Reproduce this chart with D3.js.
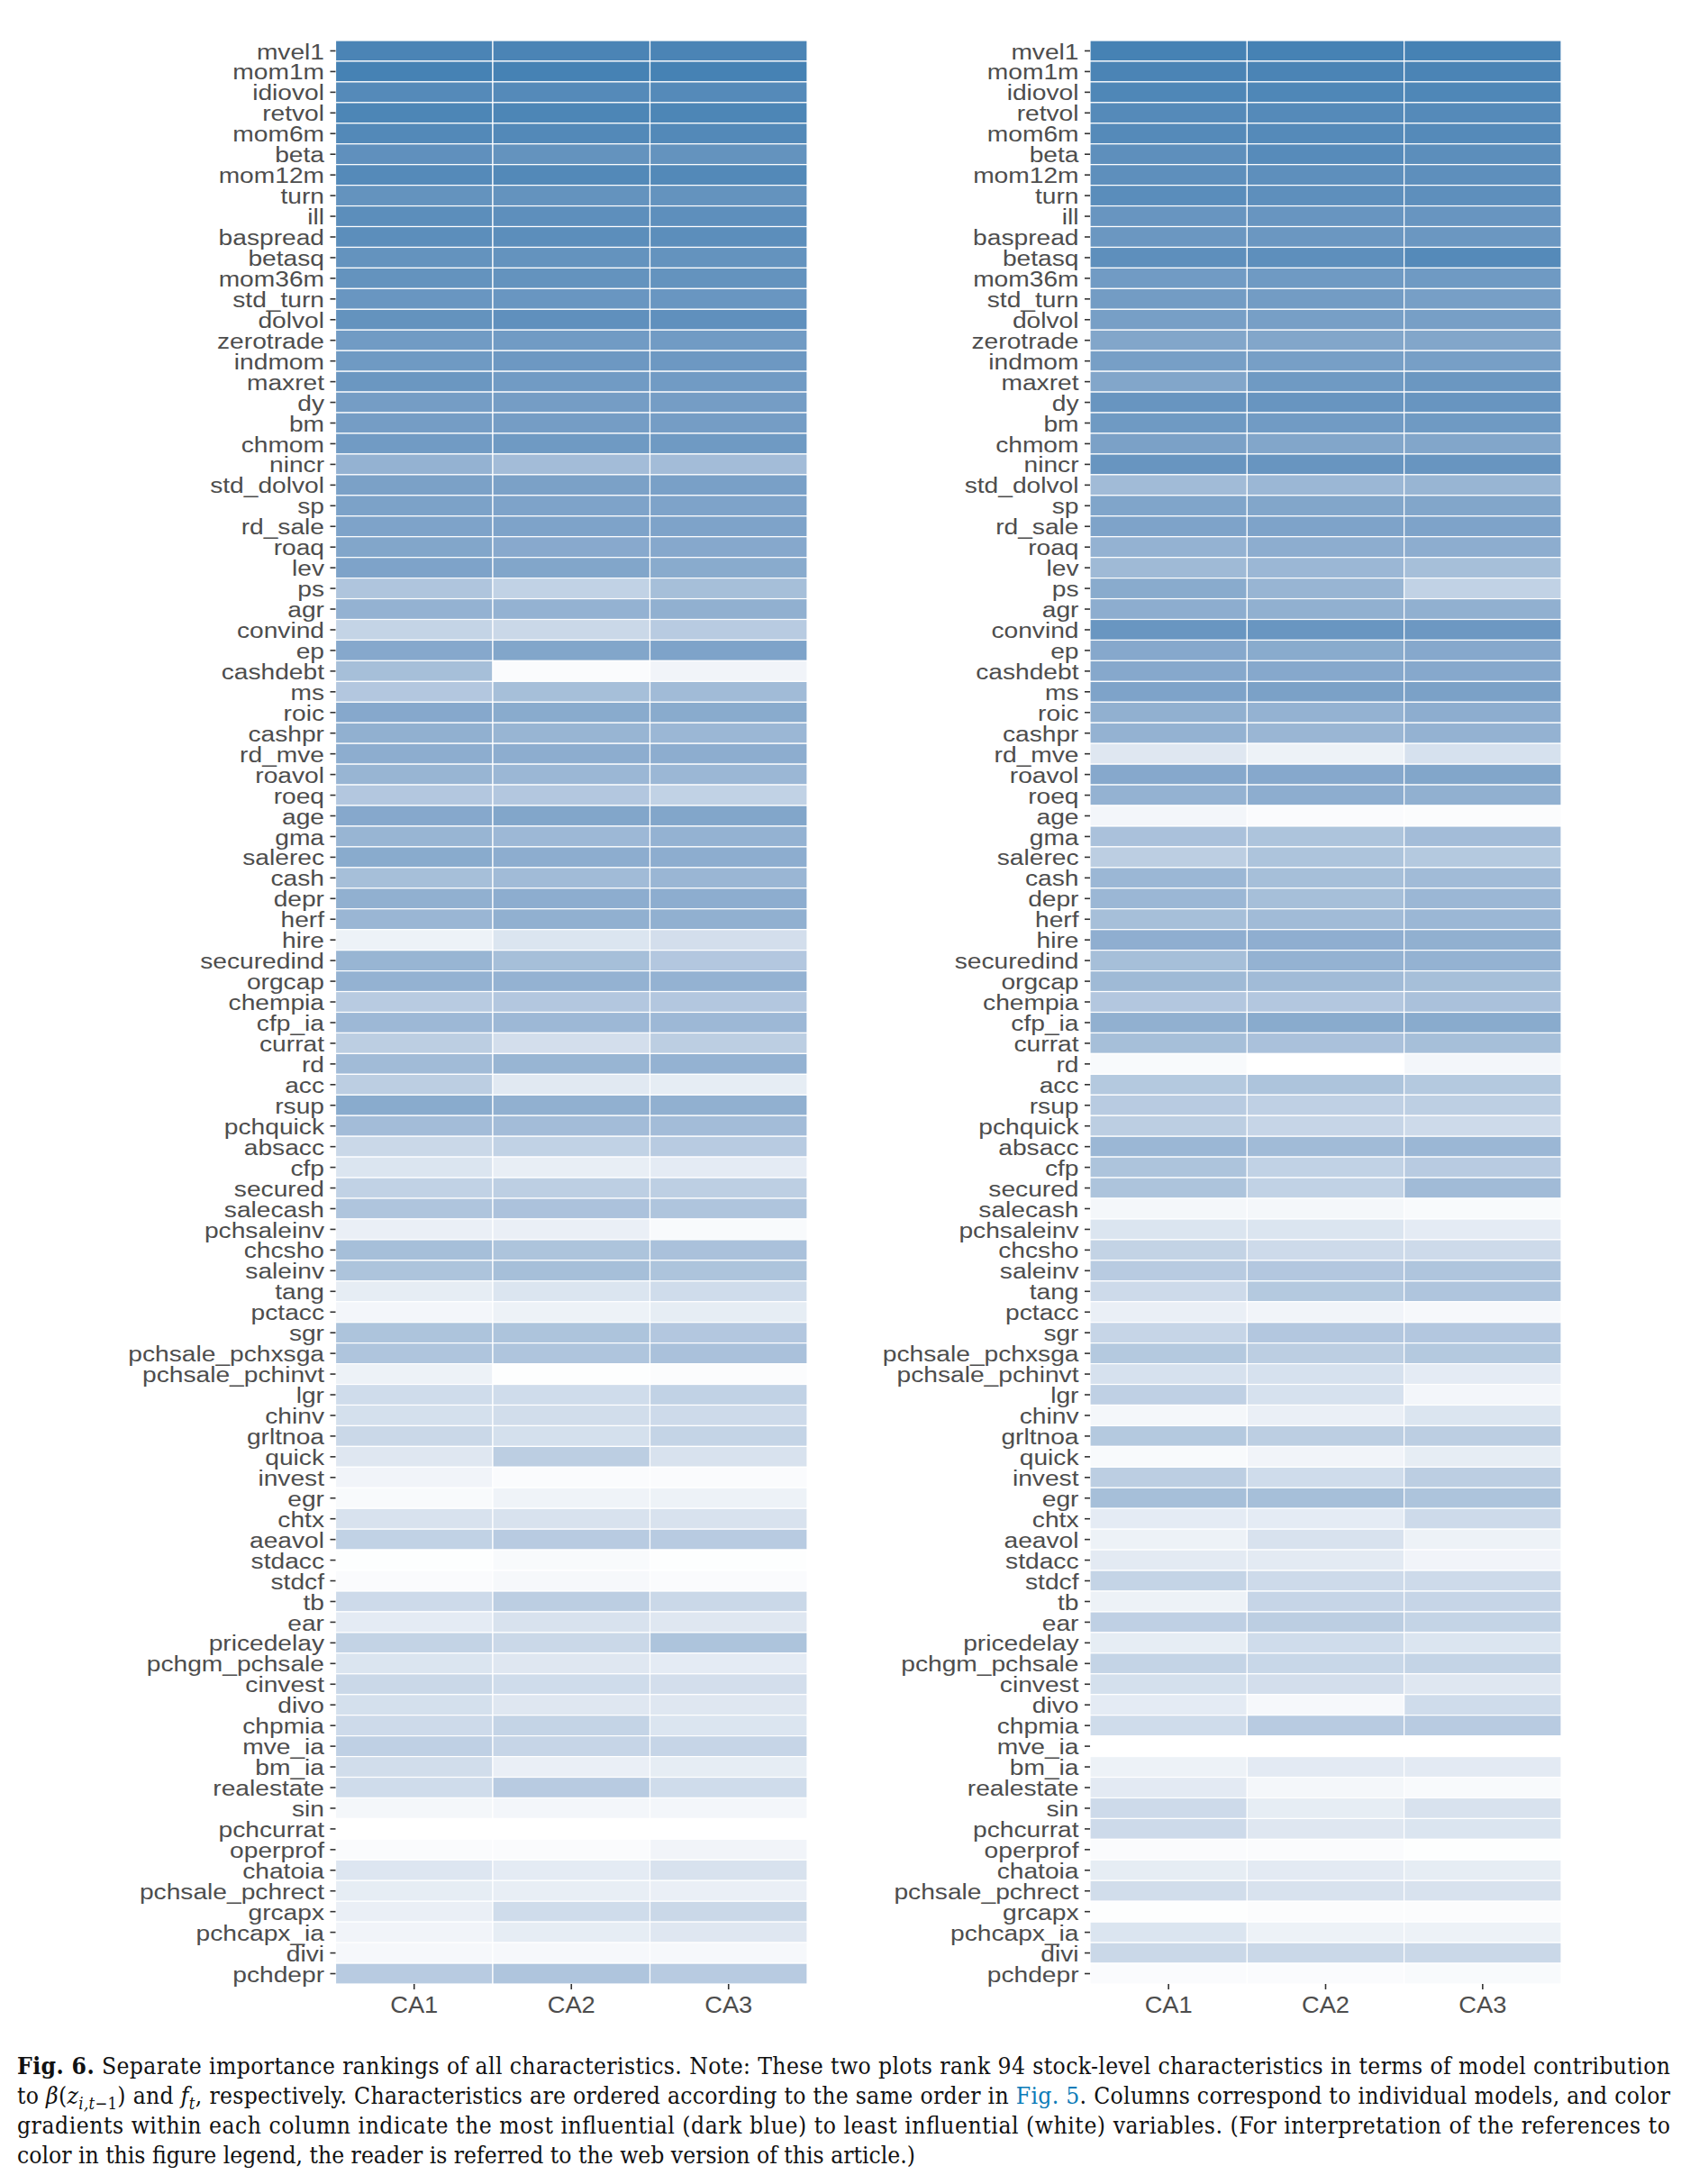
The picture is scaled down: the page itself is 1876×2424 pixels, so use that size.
<!DOCTYPE html>
<html><head><meta charset="utf-8">
<script src="https://cdn.jsdelivr.net/npm/d3@7"></script>
<style>body{margin:0;background:#fff}</style>
</head><body>
<svg id="chart" width="1876" height="2424" xmlns="http://www.w3.org/2000/svg"></svg>
<script>
const characteristics = ["mvel1","mom1m","idiovol","retvol","mom6m","beta","mom12m","turn","ill","baspread",
"betasq","mom36m","std_turn","dolvol","zerotrade","indmom","maxret","dy","bm","chmom",
"nincr","std_dolvol","sp","rd_sale","roaq","lev","ps","agr","convind","ep",
"cashdebt","ms","roic","cashpr","rd_mve","roavol","roeq","age","gma","salerec",
"cash","depr","herf","hire","securedind","orgcap","chempia","cfp_ia","currat","rd",
"acc","rsup","pchquick","absacc","cfp","secured","salecash","pchsaleinv","chcsho","saleinv",
"tang","pctacc","sgr","pchsale_pchxsga","pchsale_pchinvt","lgr","chinv","grltnoa","quick","invest",
"egr","chtx","aeavol","stdacc","stdcf","tb","ear","pricedelay","pchgm_pchsale","cinvest",
"divo","chpmia","mve_ia","bm_ia","realestate","sin","pchcurrat","operprof","chatoia","pchsale_pchrect",
"grcapx","pchcapx_ia","divi","pchdepr"];

const models = ["CA1","CA2","CA3"];

// Left panel: contribution to beta(z_{i,t-1})
const betaCA1 = [0.98,1.0,0.93,0.97,0.94,0.88,0.93,0.86,0.9,0.9,
0.86,0.86,0.83,0.86,0.79,0.8,0.82,0.77,0.77,0.79,
0.6,0.74,0.73,0.72,0.7,0.72,0.45,0.6,0.33,0.68,
0.5,0.43,0.68,0.62,0.64,0.58,0.43,0.68,0.58,0.66,
0.5,0.62,0.57,0.1,0.58,0.6,0.4,0.55,0.38,0.53,
0.38,0.66,0.52,0.3,0.2,0.35,0.45,0.12,0.5,0.46,
0.14,0.07,0.46,0.45,0.1,0.27,0.24,0.3,0.18,0.08,
0.04,0.22,0.35,0.01,0.03,0.28,0.15,0.34,0.2,0.3,
0.24,0.28,0.36,0.26,0.27,0.06,0.0,0.03,0.19,0.14,
0.12,0.08,0.05,0.4];
const betaCA2 = [0.98,1.0,0.93,0.97,0.94,0.86,0.94,0.86,0.89,0.9,
0.86,0.86,0.83,0.88,0.79,0.81,0.79,0.77,0.77,0.8,
0.52,0.74,0.72,0.72,0.67,0.7,0.35,0.6,0.3,0.7,
0.03,0.5,0.66,0.58,0.64,0.56,0.43,0.7,0.55,0.64,
0.53,0.64,0.62,0.2,0.5,0.6,0.43,0.55,0.25,0.58,
0.17,0.62,0.52,0.35,0.13,0.37,0.47,0.12,0.46,0.5,
0.2,0.1,0.46,0.45,0.01,0.27,0.26,0.24,0.38,0.03,
0.09,0.22,0.4,0.04,0.05,0.38,0.22,0.3,0.18,0.27,
0.18,0.33,0.32,0.12,0.4,0.07,0.0,0.03,0.15,0.13,
0.27,0.14,0.05,0.45];
const betaCA3 = [0.98,1.0,0.93,0.97,0.94,0.86,0.94,0.86,0.89,0.9,
0.86,0.86,0.83,0.88,0.79,0.81,0.79,0.77,0.77,0.8,
0.52,0.75,0.72,0.72,0.68,0.66,0.5,0.62,0.4,0.72,
0.08,0.53,0.66,0.56,0.64,0.56,0.35,0.7,0.6,0.64,
0.57,0.64,0.62,0.25,0.43,0.6,0.43,0.55,0.38,0.6,
0.14,0.62,0.52,0.4,0.15,0.37,0.45,0.04,0.48,0.46,
0.27,0.14,0.43,0.48,0.02,0.35,0.28,0.33,0.22,0.03,
0.1,0.22,0.4,0.01,0.03,0.3,0.18,0.46,0.15,0.25,
0.18,0.2,0.32,0.14,0.27,0.07,0.0,0.08,0.22,0.12,
0.3,0.18,0.05,0.4];

// Right panel: contribution to f_t
const ftCA1 = [1,0.98,0.96,0.93,0.93,0.89,0.89,0.91,0.84,0.82,
0.89,0.79,0.78,0.76,0.7,0.76,0.7,0.84,0.8,0.74,
0.84,0.53,0.71,0.72,0.6,0.54,0.66,0.64,0.83,0.68,
0.68,0.72,0.62,0.6,0.18,0.68,0.6,0.07,0.48,0.38,
0.56,0.56,0.5,0.63,0.5,0.54,0.43,0.62,0.5,0.04,
0.42,0.4,0.38,0.56,0.46,0.46,0.06,0.2,0.34,0.4,
0.28,0.12,0.32,0.42,0.23,0.36,0.06,0.42,0.04,0.38,
0.5,0.15,0.1,0.16,0.33,0.1,0.36,0.14,0.33,0.24,
0.15,0.27,0.0,0.1,0.16,0.28,0.28,0.03,0.14,0.26,
0.01,0.2,0.3,0.03];
const ftCA2 = [1,0.98,0.96,0.93,0.93,0.92,0.89,0.89,0.84,0.82,
0.89,0.8,0.78,0.76,0.7,0.76,0.8,0.84,0.79,0.7,
0.84,0.56,0.7,0.72,0.64,0.56,0.58,0.62,0.83,0.66,
0.68,0.74,0.6,0.57,0.1,0.68,0.64,0.03,0.46,0.46,
0.5,0.5,0.53,0.63,0.6,0.53,0.43,0.66,0.48,0.0,
0.46,0.36,0.32,0.53,0.35,0.35,0.06,0.2,0.28,0.43,
0.42,0.08,0.43,0.38,0.23,0.23,0.12,0.38,0.08,0.27,
0.5,0.15,0.22,0.16,0.28,0.32,0.38,0.27,0.31,0.25,
0.05,0.4,0.0,0.16,0.06,0.14,0.18,0.03,0.16,0.22,
0.02,0.1,0.3,0.03];
const ftCA3 = [1,0.98,0.96,0.93,0.93,0.9,0.89,0.89,0.84,0.82,
0.93,0.8,0.76,0.76,0.7,0.76,0.82,0.84,0.8,0.7,
0.84,0.58,0.7,0.72,0.64,0.5,0.35,0.62,0.81,0.68,
0.68,0.74,0.64,0.6,0.23,0.7,0.62,0.02,0.52,0.42,
0.53,0.56,0.56,0.62,0.6,0.5,0.48,0.66,0.5,0.07,
0.42,0.37,0.28,0.56,0.4,0.53,0.04,0.15,0.28,0.45,
0.45,0.05,0.43,0.42,0.15,0.07,0.2,0.38,0.14,0.38,
0.46,0.28,0.1,0.08,0.28,0.32,0.33,0.2,0.33,0.18,
0.27,0.4,0.0,0.16,0.04,0.22,0.2,0.01,0.14,0.22,
0.02,0.1,0.3,0.04];

const svg = d3.select("#chart");
const FONT = "'Liberation Sans', Arial, Helvetica, sans-serif";
const color = d3.scaleLinear().domain([0, 1]).range(["#ffffff", "#4682b4"]).interpolate(d3.interpolateLab);

const panels = [
  {cols: [betaCA1, betaCA2, betaCA3], x0: 372.5, x1: 896},
  {cols: [ftCA1, ftCA2, ftCA3], x0: 1210, x1: 1733}
];
const plotTop = 45, plotBottom = 2202;
const y = d3.scaleBand().domain(characteristics).range([plotTop, plotBottom]);
const stretchY = 1.15, stretchX = 1.07;

panels.forEach(p => {
  const x = d3.scaleBand().domain(models).range([p.x0, p.x1]);
  const cells = [];
  models.forEach((m, j) => characteristics.forEach((c, i) => cells.push({m, c, v: p.cols[j][i]})));
  const g = svg.append("g");
  g.selectAll("rect").data(cells).join("rect")
    .attr("x", d => x(d.m)).attr("y", d => y(d.c))
    .attr("width", x.bandwidth()).attr("height", y.bandwidth())
    .attr("fill", d => color(d.v))
    .attr("stroke", "#ffffff").attr("stroke-width", 1.2);

  const ya = g.append("g").attr("transform", `translate(${p.x0},0)`)
    .call(d3.axisLeft(y).tickSize(6).tickPadding(6.5));
  ya.select(".domain").remove();
  ya.selectAll(".tick line").attr("stroke", "#333333").attr("stroke-width", 1.6);
  ya.selectAll(".tick text").attr("font-family", FONT).attr("font-size", 24.5).attr("fill", "#4d4d4d")
    .attr("x", -12.5 / stretchY).attr("dy", "0.37em")
    .attr("transform", `scale(${stretchY},1)`);

  const xa = g.append("g").attr("transform", `translate(0,${plotBottom})`)
    .call(d3.axisBottom(x).tickSize(6).tickPadding(8));
  xa.select(".domain").remove();
  xa.selectAll(".tick line").attr("stroke", "#333333").attr("stroke-width", 1.6);
  xa.selectAll(".tick text").attr("font-family", FONT).attr("font-size", 25.5).attr("fill", "#4d4d4d")
    .attr("transform", `scale(${stretchX},1)`);
});

// Caption
const CAP = "'DejaVu Serif Condensed', 'DejaVu Serif', 'Liberation Serif', serif";
const capX = 19, capW = 1835, line4W = 1129;
const base = [2302, 2335, 2368, 2401];
const capLayer = svg.append("g");

function buildCaption(fs, justify) {
  capLayer.selectAll("*").remove();
  const sub = fs * 0.7, sh = fs * 0.23;
  const mk = i => capLayer.append("text").attr("x", capX).attr("y", base[i])
    .attr("font-family", CAP).attr("font-size", fs).attr("fill", "#111");
  const t1 = mk(0);
  t1.append("tspan").attr("font-weight", "bold").text("Fig. 6.");
  t1.append("tspan").text("  Separate importance rankings of all characteristics. Note: These two plots rank 94 stock-level characteristics in terms of model contribution");
  const t2 = mk(1);
  t2.append("tspan").text("to ");
  t2.append("tspan").attr("font-style", "italic").text("β");
  t2.append("tspan").text("(");
  t2.append("tspan").attr("font-style", "italic").text("z");
  t2.append("tspan").attr("font-size", sub).attr("font-style", "italic").attr("dy", sh).text("i,t");
  t2.append("tspan").attr("font-size", sub).text("−1");
  t2.append("tspan").attr("dy", -sh).text(") and ");
  t2.append("tspan").attr("font-style", "italic").text("f");
  t2.append("tspan").attr("font-size", sub).attr("font-style", "italic").attr("dy", sh).text("t");
  t2.append("tspan").attr("dy", -sh).text(", respectively. Characteristics are ordered according to the same order in ");
  t2.append("tspan").attr("fill", "#0b7bb8").text("Fig. 5");
  t2.append("tspan").text(". Columns correspond to individual models, and color");
  const t3 = mk(2);
  t3.text("gradients within each column indicate the most influential (dark blue) to least influential (white) variables. (For interpretation of the references to");
  const t4 = mk(3);
  t4.text("color in this figure legend, the reader is referred to the web version of this article.)");
  const texts = [t1, t2, t3, t4];
  if (justify) [t1, t2, t3].forEach(t => t.attr("textLength", capW).attr("lengthAdjust", "spacing"));
  return texts.map(t => t.node().getComputedTextLength());
}

// find a font size where the last line has its natural width and justified lines only gain spacing
const w = buildCaption(26, false);
const k = Math.min(line4W / w[3], 0.975 * capW / w[0], 0.975 * capW / w[1], 0.975 * capW / w[2]);
buildCaption(26 * k, true);
</script>
</body></html>
